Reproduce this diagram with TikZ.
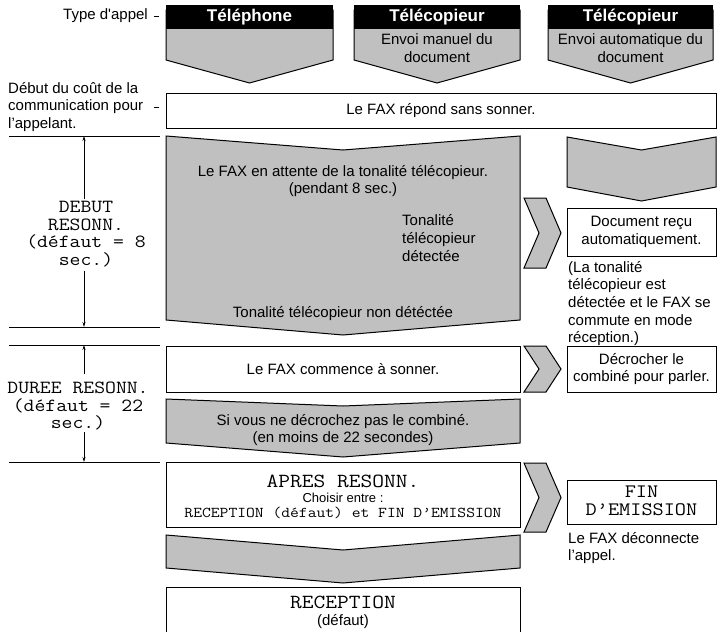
\documentclass[tikz,border=0pt]{standalone}
\usepackage{fontspec}
\setmainfont{Liberation Sans}
\setmonofont[FakeStretch=1.14]{Latin Modern Mono}
\usetikzlibrary{arrows.meta, positioning}

\definecolor{chevgray}{RGB}{192,192,192}

\tikzset{
  box/.style={draw, line width=1pt, fill=white, align=center},
  txt/.style={font=\fontsize{15}{17.6}\selectfont, align=center, inner sep=0pt},
  hdr/.style={fill=black, text=white, font=\fontsize{17}{20}\selectfont\bfseries, minimum height=24pt, inner sep=0pt},
  chev/.style={draw, line width=1pt, fill=chevgray, line join=miter},
  monoL/.style={font=\ttfamily\fontsize{18.5}{17.5}\selectfont, align=center, inner sep=0pt},
  monoB/.style={font=\ttfamily\fontsize{20}{16.5}\selectfont, align=center, inner sep=0pt},
  monoS/.style={font=\ttfamily\fontsize{15}{17}\selectfont, align=center, inner sep=0pt},
  rule/.style={line width=0.8pt},
  dim/.style={line width=0.8pt, -{Stealth[length=5pt, width=3pt]}},
}

\begin{document}
\begin{tikzpicture}[x=1pt, y=-1pt]
  \useasboundingbox (0,0) rectangle (718,632);
  \clip (0,0) rectangle (718,632);

  % Call type headers
  \foreach \xl/\xr/\xm in {166/333/249.5, 354/520/437, 548/713/630.5}
    \draw[chev] (\xl,10) -- (\xr,10) -- (\xr,60) -- (\xm,83) -- (\xl,60) -- cycle;
  \node[hdr, minimum width=167pt] (tel) at (249.5,17) {Téléphone};
  \node[hdr, minimum width=166pt] (faxmanuel) at (437,17) {Télécopieur};
  \node[hdr, minimum width=165pt] (faxauto) at (630.5,17) {Télécopieur};
  \node[txt] (manuel) at (437,48) {Envoi manuel du\\document};
  \node[txt] (auto) at (630.5,48) {Envoi automatique du\\document};

  % Left labels
  \node[txt, anchor=east] (appel) at (148,16) {Type d\textquotesingle appel};
  \draw[rule] (154,16) -- (159,16);
  \node[txt, align=left, anchor=west] (cout) at (8,107) {Début du coût de la\\communication pour\\l’appelant.};
  \draw[rule] (154,107) -- (159,107);
  \foreach \y in {136, 327, 345, 462}
    \draw[rule] (9,\y) -- (160,\y);

  % Ring delay
  \node[monoL] (debut) at (86,234) {DEBUT\\RESONN.\\(défaut = 8\\sec.)};
  \coordinate (debuthaut) at (84,136);
  \coordinate (debutbas) at (84,327);
  \draw[dim] ([yshift=2pt]debut.north -| debuthaut) -- (debuthaut);
  \draw[dim] ([yshift=-4pt]debut.south -| debutbas) -- (debutbas);

  % Ring time
  \node[monoL] (duree) at (78,406) {DUREE RESONN.\\(défaut = 22\\sec.)};
  \coordinate (dureehaut) at (84,345);
  \coordinate (dureebas) at (84,462);
  \draw[dim] ([yshift=8pt]duree.north -| dureehaut) -- (dureehaut);
  \draw[dim] ([yshift=-2pt]duree.south -| dureebas) -- (dureebas);

  % Answer
  \node[box, txt, minimum width=550pt, minimum height=35pt] (repond) at (441,110.5) {Le FAX répond sans sonner.};

  % Waiting for the fax tone
  \draw[chev] (166,136) -- (343,150) -- (520,136) -- (520,320) -- (343,335) -- (166,320) -- cycle;
  \node[txt] (attente) at (343,181) {Le FAX en attente de la tonalité télécopieur.\\(pendant 8 sec.)};
  \node[txt, align=left, anchor=west] (detect) at (402,238) {Tonalité\\télécopieur\\détectée};
  \node[txt] (nondetect) at (343,314) {Tonalité télécopieur non détéctée};

  % Automatic reception
  \draw[chev] (567,137) -- (641.5,150) -- (716,137) -- (716,187) -- (641.5,201) -- (567,187) -- cycle;
  \node[box, txt, minimum width=149pt, minimum height=48pt] (recu) at (641.5,232) {Document reçu\\automatiquement.};
  \node[txt, align=left, anchor=north west] (mode) at (568,261) {(La tonalité\\télécopieur est\\détectée et le FAX se\\commute en mode\\réception.)};

  % Ringing
  \node[box, txt, minimum width=354pt, minimum height=46pt] (sonne) at (343,369) {Le FAX commence à sonner.};
  \node[box, txt, minimum width=149pt, minimum height=46pt] (parler) at (641.5,369) {Décrocher le\\combiné pour parler.};
  \draw[chev] (166,399) -- (343,406) -- (520,399) -- (520,443) -- (343,457) -- (166,443) -- cycle;
  \node[txt] (pasdecroche) at (343,430) {Si vous ne décrochez pas le combiné.\\(en moins de 22 secondes)};

  % After ringing
  \node[box, minimum width=354pt, minimum height=65pt] (apres) at (343,494.5) {};
  \node[monoB] (apreslbl) at (343,481) {APRES RESONN.};
  \node[txt, font=\fontsize{13}{15}\selectfont] (choix) at (343,498) {Choisir entre :};
  \node[monoS] (options) at (343,513) {RECEPTION (défaut) et FIN D’EMISSION};
  \node[box, minimum width=149pt, minimum height=44pt] (fin) at (641.5,502) {};
  \node[monoB, font=\ttfamily\fontsize{19}{18}\selectfont] (finlbl) at (641.5,501) {FIN\\D’EMISSION};
  \node[txt, align=left, anchor=north west] (deconnecte) at (568,532) {Le FAX déconnecte\\l’appel.};
  \draw[chev] (166,535) -- (343,550) -- (520,535) -- (520,568) -- (343,583) -- (166,568) -- cycle;

  % Reception (default)
  \node[box, minimum width=354pt, minimum height=60pt, anchor=north] (reception) at (343,587) {};
  \node[monoB] (reclbl) at (343,602) {RECEPTION};
  \node[txt] (defaut) at (343,622) {(défaut)};

  % Side arrows
  \foreach \t/\b in {198/268, 346/392, 463/532}
    \draw[chev] (524,\t) -- (546,\t) -- (561,{(\t+\b)/2}) -- (546,\b) -- (524,\b) -- (539,{(\t+\b)/2}) -- cycle;
\end{tikzpicture}
\end{document}
